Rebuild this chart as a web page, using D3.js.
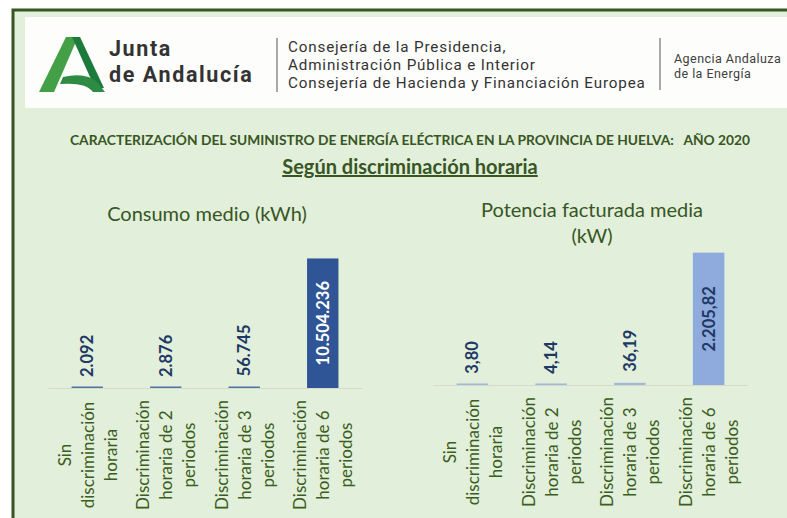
<!DOCTYPE html>
<html>
<head>
<meta charset="utf-8">
<script src="https://cdn.jsdelivr.net/npm/d3@7"></script>
<style>
  body { margin: 0; background: #ffffff; }
  svg { display: block; }
</style>
</head>
<body>
<div id="container"></div>
<script>
/* CONSTANTS AND GLOBALS */
const width = 787,
  height = 518;

// DATA
const categories = [
  "Sin\ndiscriminación\nhoraria",
  "Discriminación\nhoraria de 2\nperiodos",
  "Discriminación\nhoraria de 3\nperiodos",
  "Discriminación\nhoraria de 6\nperiodos"
];
const consumoValues = [2092, 2876, 56745, 10504236];   // kWh
const potenciaValues = [3.80, 4.14, 36.19, 2205.82];   // kW

const logoLines = ["Junta", "de Andalucía"];
const headerLines = ["Consejería de la Presidencia,", "Administración Pública e Interior", "Consejería de Hacienda y Financiación Europea"];
const agencyLines = ["Agencia Andaluza", "de la Energía"];

// spanish number format (2.092 / 2.205,82)
const es = d3.formatLocale({ decimal: ",", thousands: ".", grouping: [3], currency: ["", " €"] });

const green = "#375623";

// CREATE SVG ELEMENT
const svg = d3.select("#container")
  .append("svg")
  .attr("width", width)
  .attr("height", height)
  .style("font-family", "Lato, 'Open Sans', sans-serif");

// frame + panel background
svg.append("rect").attr("x", 13).attr("y", 10).attr("width", width - 13).attr("height", height - 10).attr("fill", "#e2efda");
svg.append("path").attr("d", `M13,${height} V10 H${width}`).attr("fill", "none").attr("stroke", "#375623").attr("stroke-width", 3);

// HEADER
const header = svg.append("g");
header.append("rect").attr("x", 25).attr("y", 17).attr("width", width - 25).attr("height", 91).attr("fill", "#fdfdfb");

// logo
header.append("path").attr("d", "M39,92 L54,92 L78,37 L66,37 Z").attr("fill", "#43a047");
header.append("path").attr("d", "M72,37 L80,37 L104,88 L95,88 Z").attr("fill", "#1b7a3c");
header.append("path").attr("d", "M63,77 Q86,72 97,82 L105,92 L93,92 Q86,82 60,84 Z").attr("fill", "#2e8b44");

header.selectAll(".logo")
  .data(logoLines)
  .join("text")
  .attr("class", "logo")
  .attr("x", 109)
  .attr("y", (d, i) => 56 + i * 26)
  .attr("font-family", "Roboto, sans-serif")
  .attr("font-size", 21.5)
  .attr("font-weight", 700)
  .attr("letter-spacing", 1.6)
  .attr("fill", "#333333")
  .text(d => d);

header.append("line").attr("x1", 277).attr("x2", 277).attr("y1", 38).attr("y2", 92).attr("stroke", "#555").attr("stroke-width", 1);
header.append("line").attr("x1", 660).attr("x2", 660).attr("y1", 38).attr("y2", 90).attr("stroke", "#555").attr("stroke-width", 1);

header.selectAll(".hl")
  .data(headerLines)
  .join("text")
  .attr("class", "hl")
  .attr("x", 288)
  .attr("y", (d, i) => 52 + i * 18)
  .attr("font-family", "Roboto, sans-serif")
  .attr("font-size", 15.2)
  .attr("letter-spacing", 0.85)
  .attr("fill", "#333333")
  .text(d => d);

header.selectAll(".al")
  .data(agencyLines)
  .join("text")
  .attr("class", "al")
  .attr("x", 674)
  .attr("y", (d, i) => 63 + i * 15)
  .attr("font-family", "Roboto, sans-serif")
  .attr("font-size", 12.5)
  .attr("letter-spacing", 0.45)
  .attr("fill", "#404040")
  .text(d => d);

// TITLES
svg.append("text")
  .attr("x", 410).attr("y", 145)
  .attr("text-anchor", "middle")
  .attr("font-size", 12.5).attr("font-weight", 700).attr("fill", green)
  .attr("textLength", 680).attr("lengthAdjust", "spacingAndGlyphs")
  .style("white-space", "pre")
  .text("CARACTERIZACIÓN DEL SUMINISTRO DE ENERGÍA ELÉCTRICA EN LA PROVINCIA DE HUELVA:   AÑO 2020");

svg.append("text")
  .attr("x", 410).attr("y", 174)
  .attr("text-anchor", "middle")
  .attr("font-size", 20).attr("font-weight", 700).attr("fill", green)
  .attr("text-decoration", "underline")
  .text("Según discriminación horaria");

// CHART FUNCTION
function drawChart({ values, x0, x1, axisY, yMax, topY, color, labelColor, insideColor, titleLines, titleX, titleY }) {
  const g = svg.append("g");

  const xScale = d3.scaleBand()
    .domain(categories)
    .range([x0, x1])
    .paddingInner(0.6)
    .paddingOuter(0.3);

  const yScale = d3.scaleLinear()
    .domain([0, yMax])
    .range([axisY, topY]);

  // chart title
  g.selectAll(".ctitle")
    .data(titleLines)
    .join("text")
    .attr("class", "ctitle")
    .attr("x", titleX)
    .attr("y", (d, i) => titleY + i * 26)
    .attr("text-anchor", "middle")
    .attr("font-size", 20)
    .attr("fill", green)
    .text(d => d);

  // x axis (line only, labels drawn below)
  const xAxis = d3.axisBottom(xScale).tickSize(0).tickFormat("");
  g.append("g")
    .attr("transform", `translate(0,${axisY})`)
    .call(xAxis)
    .call(a => a.select(".domain").attr("stroke", "#d3dccb").attr("stroke-width", 1.2));

  // bars
  const barH = d => Math.max(yScale(0) - yScale(d), 1.5);
  g.selectAll(".bar")
    .data(values)
    .join("rect")
    .attr("class", "bar")
    .attr("x", (d, i) => xScale(categories[i]))
    .attr("width", xScale.bandwidth())
    .attr("y", d => yScale(0) - barH(d))
    .attr("height", d => barH(d))
    .attr("fill", color)
    .attr("fill-opacity", d => barH(d) > 5 ? 1 : 0.8);

  // value labels
  const fmt = values.some(v => v % 1 !== 0) ? es.format(",.2f") : es.format(",.0f");
  g.selectAll(".vlabel")
    .data(values)
    .join("text")
    .attr("class", "vlabel")
    .attr("transform", (d, i) => {
      const cx = xScale(categories[i]) + xScale.bandwidth() / 2;
      const inside = barH(d) > 100;
      const cy = inside ? (yScale(d) + yScale(0)) / 2 : yScale(d) - 11;
      return `translate(${cx},${cy}) rotate(-90)`;
    })
    .attr("text-anchor", d => barH(d) > 100 ? "middle" : "start")
    .attr("dominant-baseline", "central")
    .attr("font-size", 16.5)
    .attr("font-weight", 700)
    .attr("fill", d => barH(d) > 100 ? insideColor : labelColor)
    .text(d => fmt(d));

  // category labels, rotated, three lines centred
  const cat = g.selectAll(".cat")
    .data(categories)
    .join("text")
    .attr("class", "cat")
    .attr("transform", d => `translate(${xScale(d) + xScale.bandwidth() / 2},${axisY + 67}) rotate(-90)`)
    .attr("text-anchor", "middle")
    .attr("font-size", 17)
    .attr("fill", "#3b5e20");

  cat.selectAll("tspan")
    .data(d => d.split("\n").map((t, i, arr) => ({ t, off: (i - (arr.length - 1) / 2) * 23 })))
    .join("tspan")
    .attr("x", 0)
    .attr("y", d => d.off)
    .attr("dominant-baseline", "central")
    .text(d => d.t);
}

drawChart({
  values: consumoValues,
  x0: 48, x1: 362,
  axisY: 388, yMax: 12000000, topY: 240,
  color: "#2f5597", labelColor: "#203864", insideColor: "#ffffff",
  titleLines: ["Consumo medio (kWh)"], titleX: 207, titleY: 221
});

drawChart({
  values: potenciaValues,
  x0: 433, x1: 748,
  axisY: 385, yMax: 2500, topY: 235,
  color: "#8faadc", labelColor: "#203864", insideColor: "#203864",
  titleLines: ["Potencia facturada media", "(kW)"], titleX: 592, titleY: 217
});
</script>
</body>
</html>
